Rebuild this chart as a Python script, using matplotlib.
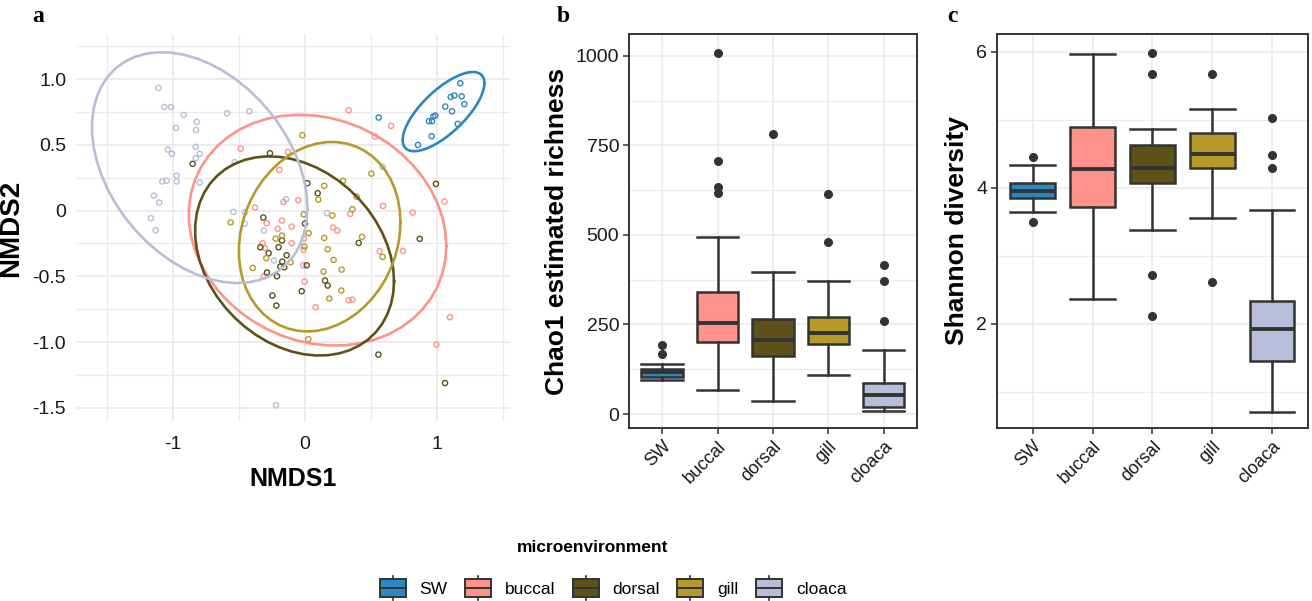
import numpy as np
import matplotlib
matplotlib.use('Agg')
import matplotlib.pyplot as plt
from matplotlib.patches import Rectangle
from matplotlib.lines import Line2D
from matplotlib.legend_handler import HandlerBase
from matplotlib.ticker import FixedLocator, FixedFormatter

plt.rcParams['font.family'] = ['Liberation Sans', 'DejaVu Sans']
plt.rcParams['axes.unicode_minus'] = False

groups = ['SW', 'buccal', 'dorsal', 'gill', 'cloaca']
colors = ['#2A88C0', '#FF928B', '#5E5119', '#B59A2A', '#B8BDD9']
edge = '#333333'

# ---- NMDS ordination scores ----
nmds1_sw = [1.177, 1.104, 1.131, 1.187, 1.207, 1.063, 1.114, 0.987, 0.972, 0.939,
            0.962, 1.157, 0.960, 0.856, 0.558]
nmds2_sw = [0.968, 0.864, 0.875, 0.869, 0.809, 0.791, 0.755, 0.722, 0.715, 0.679,
            0.679, 0.659, 0.565, 0.499, 0.707]

nmds1_buccal = [0.331, 0.652, 0.530, -0.487, -0.129, -0.194, -0.162, -0.051, -0.379, 0.591,
                1.056, 0.816, 0.343, -0.174, -0.290, -0.207, -0.101, 0.212, 0.245, -0.321,
                -0.303, -0.101, -0.008, -0.010, 0.566, 0.742, -0.013, -0.313, -0.003, 0.331,
                0.359, 0.081, 1.098, 0.995]
nmds2_buccal = [0.763, 0.644, 0.563, 0.471, 0.446, 0.309, 0.066, 0.079, 0.023, 0.035,
                0.068, -0.015, -0.025, -0.076, -0.096, -0.139, -0.122, -0.129, -0.152, -0.248,
                -0.286, -0.248, -0.213, -0.299, -0.309, -0.307, -0.416, -0.502, -0.540, -0.682,
                -0.677, -0.735, -0.811, -1.019]

nmds1_dorsal = [-0.265, -0.851, 0.018, 0.096, 0.992, -0.316, 0.000, 0.869, -0.338, -0.275,
                -0.200, -0.174, -0.139, -0.172, -0.187, -0.157, 0.013, -0.288, -0.212, 0.407,
                0.152, 0.172, -0.025, -0.247, -0.217, 0.556, 1.061]
nmds2_dorsal = [0.436, 0.355, 0.208, 0.132, 0.203, -0.053, -0.099, -0.215, -0.279, -0.324,
                -0.279, -0.228, -0.340, -0.388, -0.426, -0.431, -0.416, -0.471, -0.499, -0.246,
                -0.532, -0.570, -0.613, -0.646, -0.722, -1.095, -1.311]

nmds1_gill = [-0.020, 0.288, 0.146, 0.503, 0.101, 0.391, 0.359, -0.010, 0.207, -0.563,
              0.028, -0.174, -0.222, 0.146, 0.432, -0.005, 0.172, -0.293, 0.217, 0.588,
              -0.109, -0.396, 0.141, 0.278, 0.275, 0.184, 0.025]
nmds2_gill = [0.573, 0.226, 0.188, 0.281, 0.084, 0.106, 0.010, -0.028, -0.038, -0.091,
              -0.172, -0.190, -0.213, -0.208, -0.200, -0.274, -0.294, -0.362, -0.375, -0.352,
              -0.393, -0.436, -0.464, -0.449, -0.608, -0.669, -0.978]

nmds1_cloaca = [-1.111, -1.066, -1.015, -0.919, -0.977, -0.821, -0.826, -0.591, -0.422, -1.040,
                -1.008, -0.828, -0.798, -0.828, -0.533, -0.972, -0.972, -1.081, -1.048, -0.798,
                -1.144, -1.104, -1.167, -1.131, -0.543, -0.455, -0.457, -0.144, 0.167, -0.311,
                -0.235, 0.588, -0.220]
nmds2_cloaca = [0.933, 0.788, 0.788, 0.727, 0.629, 0.674, 0.613, 0.740, 0.755, 0.464,
                0.431, 0.484, 0.431, 0.398, 0.368, 0.266, 0.221, 0.221, 0.228, 0.213,
                0.114, 0.061, -0.058, -0.150, -0.010, -0.015, -0.099, 0.086, -0.020, -0.152,
                -0.380, 0.332, -1.480]

nmds1 = [nmds1_sw, nmds1_buccal, nmds1_dorsal, nmds1_gill, nmds1_cloaca]
nmds2 = [nmds2_sw, nmds2_buccal, nmds2_dorsal, nmds2_gill, nmds2_cloaca]

# ---- Chao1 box summaries ----
chao_lo = [95, 67, 37, 110, 8]
chao_q1 = [103, 201, 161, 196, 20]
chao_med = [117, 255, 206, 227, 54]
chao_q3 = [126, 340, 265, 271, 86]
chao_hi = [140, 494, 397, 371, 178]
chao_out = [[194, 167], [1008, 706, 635, 617], [782], [615, 480], [415, 371, 260]]

# ---- Shannon box summaries ----
shan_lo = [3.64, 2.36, 3.38, 3.55, 0.70]
shan_q1 = [3.855, 3.71, 4.07, 4.29, 1.45]
shan_med = [3.96, 4.28, 4.29, 4.50, 1.92]
shan_q3 = [4.07, 4.89, 4.635, 4.80, 2.34]
shan_hi = [4.34, 5.97, 4.87, 5.16, 3.68]
shan_out = [[4.45, 3.49], [], [5.99, 5.68, 2.72, 2.11], [5.68, 2.61], [5.03, 4.49, 4.29]]


def cov_trob(xy, nu=5, maxit=25, tol=0.01):
    # t-distribution robust covariance, like MASS::cov.trob
    n, p = xy.shape
    loc = xy.mean(axis=0)
    w = np.ones(n)
    for _ in range(maxit):
        w0 = w
        X = xy - loc
        S = (w[:, None] * X).T @ X / w.sum()
        Q = np.einsum('ij,jk,ik->i', X, np.linalg.inv(S), X)
        w = (nu + p) / (nu + Q)
        loc = (w[:, None] * xy).sum(axis=0) / w.sum()
        if np.all(np.abs(w - w0) < tol):
            break
    X = xy - loc
    cov = (w[:, None] * X).T @ X / n
    return loc, cov


def ellipse(x, y, level=0.95, segments=51):
    xy = np.column_stack([x, y])
    n = len(x)
    loc, cov = cov_trob(xy)
    d2 = n - 1
    qf = d2 / 2 * ((1 - level) ** (-2 / d2) - 1)
    radius = np.sqrt(2 * qf)
    t = np.linspace(0, 2 * np.pi, segments + 1)
    circle = np.column_stack([np.cos(t), np.sin(t)])
    R = np.linalg.cholesky(cov).T
    pts = loc + radius * (circle @ R)
    return pts[:, 0], pts[:, 1]


fig = plt.figure(figsize=(13.12, 6.01), dpi=100)
tick_col = '#1a1a1a'
grid_col = '#EBEBEB'

# ---- panel a ----
ax1 = fig.add_axes([0.0579, 0.2995, 0.3308, 0.6423])
for xs, ys, c in zip(nmds1, nmds2, colors):
    ax1.scatter(xs, ys, s=14, facecolors='none', edgecolors=c, linewidths=1.0, zorder=3)
for xs, ys, c in zip(nmds1, nmds2, colors):
    ex, ey = ellipse(xs, ys)
    ax1.plot(ex, ey, color=c, lw=1.9, zorder=4)
ax1.set_xlim(-1.735, 1.553)
ax1.set_ylim(-1.6, 1.335)
ax1.xaxis.set_major_locator(FixedLocator([-1, 0, 1]))
ax1.xaxis.set_major_formatter(FixedFormatter(['-1', '0', '1']))
ax1.xaxis.set_minor_locator(FixedLocator([-1.5, -0.5, 0.5, 1.5]))
ax1.yaxis.set_major_locator(FixedLocator([-1.5, -1.0, -0.5, 0, 0.5, 1.0]))
ax1.yaxis.set_major_formatter(FixedFormatter(['-1.5', '-1.0', '-0.5', '0', '0.5', '1.0']))
ax1.yaxis.set_minor_locator(FixedLocator([-1.25, -0.75, -0.25, 0.25, 0.75, 1.25]))
ax1.grid(which='major', color=grid_col, lw=1.3)
ax1.grid(which='minor', color=grid_col, lw=0.9)
ax1.set_axisbelow(True)
for s in ax1.spines.values():
    s.set_visible(False)
ax1.tick_params(which='both', length=0, labelsize=14, colors=tick_col, pad=7)
ax1.tick_params(axis='x', pad=11)
ax1.set_xlabel('NMDS1', fontsize=18, fontweight='bold', labelpad=10)
ax1.set_ylabel('NMDS2', fontsize=20, fontweight='bold', labelpad=6)


def box_panel(ax, lo, q1, med, q3, hi, out):
    stats = []
    for i in range(len(groups)):
        stats.append(dict(whislo=lo[i], q1=q1[i], med=med[i], q3=q3[i],
                          whishi=hi[i], fliers=out[i], label=groups[i]))
    res = ax.bxp(stats, positions=range(len(groups)), widths=0.75, capwidths=0.75,
                 patch_artist=True,
                 boxprops=dict(edgecolor=edge, lw=1.8),
                 medianprops=dict(color=edge, lw=2.8, solid_capstyle='butt'),
                 whiskerprops=dict(color=edge, lw=1.8),
                 capprops=dict(color=edge, lw=1.8),
                 flierprops=dict(marker='o', markerfacecolor=edge, markeredgecolor=edge,
                                 markersize=5.5))
    for b, c in zip(res['boxes'], colors):
        b.set_facecolor(c)
    ax.set_xlim(-0.6, len(groups) - 0.4)
    ax.xaxis.set_major_locator(FixedLocator(range(len(groups))))
    ax.xaxis.set_major_formatter(FixedFormatter(groups))
    ax.grid(which='major', color=grid_col, lw=1.2)
    ax.grid(which='minor', axis='y', color=grid_col, lw=0.8)
    ax.set_axisbelow(True)
    for s in ax.spines.values():
        s.set_color(edge)
        s.set_linewidth(1.4)
    ax.tick_params(which='major', length=4, width=1.1, color=edge,
                   labelcolor=tick_col, pad=3)
    ax.tick_params(axis='y', labelsize=14)
    ax.tick_params(axis='x', labelsize=13)
    ax.tick_params(which='minor', length=0)
    plt.setp(ax.get_xticklabels(), rotation=45, ha='right', rotation_mode='anchor')


# ---- panel b ----
ax2 = fig.add_axes([0.4794, 0.2879, 0.2195, 0.6556])
box_panel(ax2, chao_lo, chao_q1, chao_med, chao_q3, chao_hi, chao_out)
ax2.set_ylim(-39, 1061)
ax2.yaxis.set_major_locator(FixedLocator([0, 250, 500, 750, 1000]))
ax2.yaxis.set_major_formatter(FixedFormatter(['0', '250', '500', '750', '1000']))
ax2.yaxis.set_minor_locator(FixedLocator([125, 375, 625, 875]))
ax2.set_ylabel('Chao1 estimated richness', fontsize=19, fontweight='bold', labelpad=5)

# ---- panel c ----
ax3 = fig.add_axes([0.7599, 0.2879, 0.2370, 0.6556])
box_panel(ax3, shan_lo, shan_q1, shan_med, shan_q3, shan_hi, shan_out)
ax3.set_ylim(0.464, 6.265)
ax3.yaxis.set_major_locator(FixedLocator([2, 4, 6]))
ax3.yaxis.set_major_formatter(FixedFormatter(['2', '4', '6']))
ax3.yaxis.set_minor_locator(FixedLocator([1, 3, 5]))
ax3.set_ylabel('Shannon diversity', fontsize=19, fontweight='bold', labelpad=5)

# panel letters
for lab, xp in zip(['a', 'b', 'c'], [38, 563, 952]):
    fig.text(xp / 1312, 1 - 17 / 601, lab, family='Liberation Serif', fontweight='bold',
             fontsize=17, ha='center', va='center')


# ---- legend ----
class BoxKey(HandlerBase):
    def create_artists(self, legend, orig_handle, xdescent, ydescent, width, height,
                       fontsize, trans):
        x0, y0 = -xdescent, -ydescent
        cx = x0 + width / 2
        box = Rectangle((x0, y0), width, height, facecolor=orig_handle.get_facecolor(),
                        edgecolor=edge, lw=1.4, transform=trans)
        med = Line2D([x0, x0 + width], [y0 + height / 2] * 2, color=edge, lw=1.4,
                     transform=trans)
        top = Line2D([cx, cx], [y0 + height, y0 + 1.2 * height], color=edge, lw=1.2,
                     transform=trans)
        bot = Line2D([cx, cx], [y0, y0 - 0.2 * height], color=edge, lw=1.2,
                     transform=trans)
        return [box, med, top, bot]


handles = [Rectangle((0, 0), 1, 1, facecolor=c) for c in colors]
fig.legend(handles, groups, loc='center', ncol=5,
           bbox_to_anchor=(613 / 1312, 1 - 588 / 601), frameon=False, fontsize=12.5,
           handler_map={Rectangle: BoxKey()}, handlelength=1.5, handleheight=1.2,
           handletextpad=0.8, columnspacing=1.0, borderpad=0, borderaxespad=0)
fig.text(593 / 1312, 1 - 547 / 601, 'microenvironment', fontsize=12.5, fontweight='bold',
         ha='center', va='center')

fig.savefig('out.png', dpi=100)
